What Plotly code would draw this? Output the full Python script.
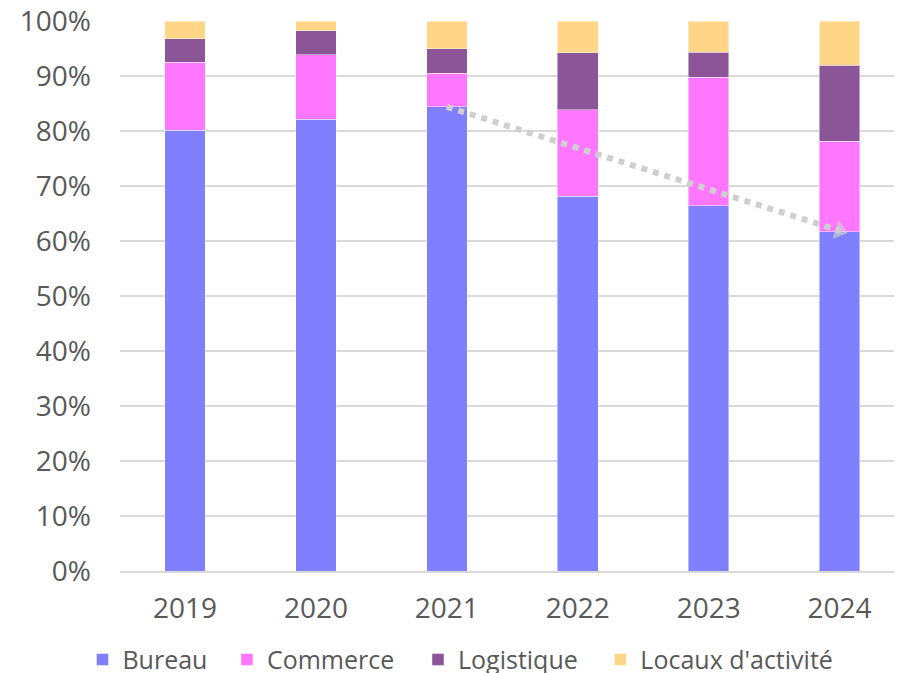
import plotly.graph_objects as go

years = ["2019", "2020", "2021", "2022", "2023", "2024"]
bureau = [80.1, 82.1, 84.4, 68.1, 66.4, 61.7]
commerce = [12.4, 11.8, 6.1, 15.8, 23.4, 16.4]
logistique = [4.3, 4.3, 4.5, 10.3, 4.5, 13.9]
locaux = [3.2, 1.8, 5.0, 5.8, 5.7, 8.0]

trend_x = ["2021", "2024"]
trend_y = [84.4, 61.9]

series = [
    ("Bureau", bureau, "#8080FF", "legend"),
    ("Commerce", commerce, "#FF77FF", "legend2"),
    ("Logistique", logistique, "#8B5597", "legend3"),
    ("Locaux d'activité", locaux, "#FFD587", "legend4"),
]
# legend entry left positions (fraction of container width)
legend_x = [0.0833, 0.2449, 0.4586, 0.6626]

fig = go.Figure()
for name, vals, col, lg in series:
    fig.add_trace(go.Bar(
        x=years, y=vals, name=name, legend=lg,
        marker=dict(color=col, line=dict(color="rgba(255,255,255,0.45)", width=1)),
    ))

fig.add_trace(go.Scatter(
    x=trend_x, y=trend_y, mode="lines+markers", showlegend=False,
    line=dict(color="#CFCFCF", width=6, dash="6px,6px"),
    marker=dict(symbol=["circle", "triangle-up"], size=[0, 17], color="#CFCFCF",
                angleref="previous", line=dict(width=0)),
    hoverinfo="skip",
))

font_family = "Open Sans, DejaVu Sans, sans-serif"
legend_common = dict(
    orientation="h", xref="container", yref="container",
    xanchor="left", yanchor="middle", y=0.02,
    font=dict(size=25, color="#595959", family=font_family),
    bgcolor="rgba(0,0,0,0)", borderwidth=0,
)

fig.update_layout(
    width=894, height=665,
    barmode="stack",
    bargap=0.69,
    plot_bgcolor="white",
    paper_bgcolor="white",
    margin=dict(l=112, r=0, t=13, b=102, autoexpand=False),
    font=dict(family=font_family, color="#595959", size=28),
    legend=dict(x=legend_x[0], **legend_common),
    legend2=dict(x=legend_x[1], **legend_common),
    legend3=dict(x=legend_x[2], **legend_common),
    legend4=dict(x=legend_x[3], **legend_common),
    xaxis=dict(
        type="category", range=[-0.497, 5.477], automargin=False,
        showgrid=False, showline=True, linecolor="#D9D9D9", linewidth=1.5,
        ticks="", ticklabelstandoff=12,
        tickfont=dict(size=28, color="#595959"),
    ),
    yaxis=dict(
        range=[0, 100], dtick=10, ticksuffix="%", automargin=False,
        showgrid=True, gridcolor="#D9D9D9", gridwidth=1.5,
        zeroline=False, ticks="", ticklabelstandoff=28,
        ticklabeloverflow="allow",
        tickfont=dict(size=28, color="#595959"),
    ),
)

fig.write_html("out.html")
